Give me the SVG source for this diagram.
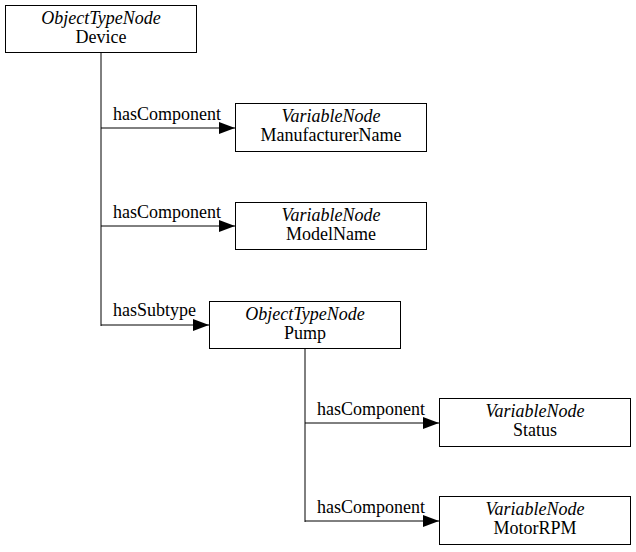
<svg xmlns="http://www.w3.org/2000/svg" width="636" height="552" viewBox="0 0 636 552">
<style>
.box{fill:#fff;stroke:#000;stroke-width:1}
.t{font-style:italic;text-anchor:middle}
.n{text-anchor:middle}
.e{fill:none;stroke:#000;stroke-width:1}
</style>
<defs>
<marker id="arr" markerWidth="16" markerHeight="12" refX="16" refY="6" orient="auto" markerUnits="userSpaceOnUse">
<path d="M0,0 L16,6 L0,12 Z" fill="#000"/>
</marker>
</defs>
<rect width="636" height="552" fill="#fff"/>
<g font-family="Liberation Serif, Times New Roman, serif" font-size="18" fill="#000">
<g id="connectors">
<path class="e" d="M101,53 V326"/>
<path class="e" d="M101,128 H235" marker-end="url(#arr)"/>
<path class="e" d="M101,226 H235" marker-end="url(#arr)"/>
<path class="e" d="M101,325 H209" marker-end="url(#arr)"/>
<path class="e" d="M305,349 V522"/>
<path class="e" d="M305,423 H439" marker-end="url(#arr)"/>
<path class="e" d="M305,521 H439" marker-end="url(#arr)"/>
<text x="113" y="120">hasComponent</text>
<text x="113" y="218">hasComponent</text>
<text x="113" y="316">hasSubtype</text>
<text x="317" y="415">hasComponent</text>
<text x="317" y="513">hasComponent</text>
</g>
<g id="device">
<rect class="box" x="5.5" y="5.5" width="191" height="47"/>
<text class="t" x="101" y="24">ObjectTypeNode</text>
<text class="n" x="101" y="43">Device</text>
</g>
<g id="manufacturerName">
<rect class="box" x="235.5" y="103.5" width="191" height="48"/>
<text class="t" x="331" y="122">VariableNode</text>
<text class="n" x="331" y="141">ManufacturerName</text>
</g>
<g id="modelName">
<rect class="box" x="235.5" y="202.5" width="191" height="47"/>
<text class="t" x="331" y="221">VariableNode</text>
<text class="n" x="331" y="240">ModelName</text>
</g>
<g id="pump">
<rect class="box" x="209.5" y="301.5" width="191" height="47"/>
<text class="t" x="305" y="320">ObjectTypeNode</text>
<text class="n" x="305" y="339">Pump</text>
</g>
<g id="status">
<rect class="box" x="439.5" y="398.5" width="191" height="48"/>
<text class="t" x="535" y="417">VariableNode</text>
<text class="n" x="535" y="436">Status</text>
</g>
<g id="motorRPM">
<rect class="box" x="439.5" y="496.5" width="191" height="48"/>
<text class="t" x="535" y="515">VariableNode</text>
<text class="n" x="535" y="534">MotorRPM</text>
</g>
</g>
</svg>
